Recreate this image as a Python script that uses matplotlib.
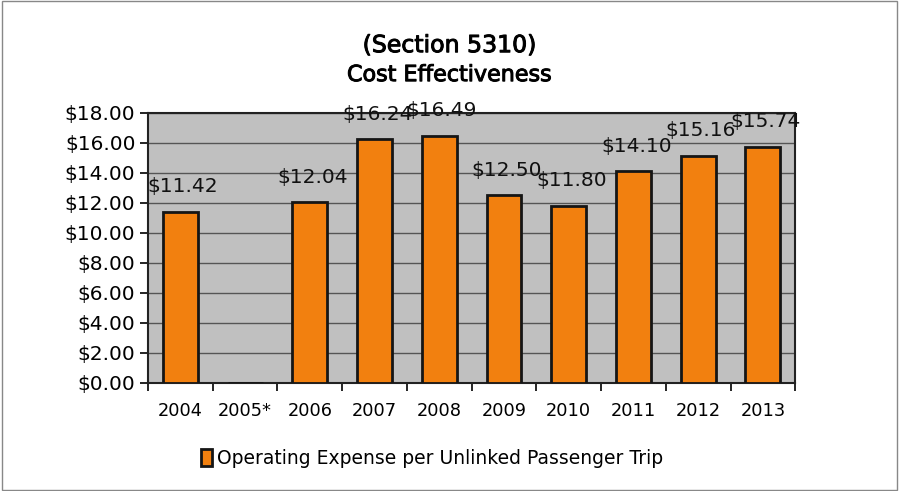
import matplotlib.pyplot as plt
import matplotlib.patheffects as pe
import numpy as np

years = ['2004', '2005*', '2006', '2007', '2008', '2009', '2010', '2011', '2012', '2013']
cost = [11.42, np.nan, 12.04, 16.24, 16.49, 12.50, 11.80, 14.10, 15.16, 15.74]
series_name = 'Operating Expense per Unlinked Passenger Trip'

plt.rcParams['font.family'] = ['DejaVu Sans']

fig = plt.figure(figsize=(8.99, 4.91), dpi=100)
fig.patch.set_facecolor('white')
ax = fig.add_axes([0.1646, 0.22, 0.720, 0.55])
ax.set_facecolor('#c0c0c0')

x = np.arange(len(years))
vals = np.nan_to_num(cost)
bars = ax.bar(x, vals, width=0.54, color='#f2800f', edgecolor='#151515', linewidth=2,
              label=series_name, zorder=3)
for xi, v in zip(x, cost):
    if np.isnan(v):
        continue
    ax.annotate('$%.2f' % v, (xi, v), xytext=(2, 18), textcoords='offset points',
                ha='center', va='center', fontsize=14.5, color='#111111', zorder=4)

ax.set_xlim(-0.5, len(years) - 0.5)
ax.set_ylim(0, 18)
ax.set_yticks(np.arange(0, 18.1, 2))
ax.set_yticklabels(['$%.2f' % t for t in np.arange(0, 18.1, 2)], fontsize=14.5)
ax.set_xticks(x)
ax.set_xticklabels(years, fontsize=12.8)
ax.set_xticks(np.arange(-0.5, len(years), 1), minor=True)
ax.tick_params(axis='x', which='major', length=0, pad=14)
ax.tick_params(axis='x', which='minor', length=6, width=1.2, direction='out')
ax.tick_params(axis='y', length=6, width=1.2, direction='out', pad=3)
ax.grid(axis='y', color='#555555', linewidth=1, zorder=1)
for s in ax.spines.values():
    s.set_color('#222222')
    s.set_linewidth(1.5)

thick = [pe.withStroke(linewidth=0.7, foreground='black')]
fig.text(0.50, 0.908, '(Section 5310)', ha='center', va='center', fontsize=17, path_effects=thick)
fig.text(0.50, 0.847, 'Cost Effectiveness', ha='center', va='center', fontsize=16, path_effects=thick)

leg = fig.legend(handles=[bars], labels=[series_name], loc='center', bbox_to_anchor=(0.481, 0.067),
                 frameon=False, fontsize=13.5, handlelength=0.55, handleheight=1.0, handletextpad=0.3)

fig.add_artist(plt.Rectangle((0.002, 0.002), 0.996, 0.996, transform=fig.transFigure,
                             fill=False, edgecolor='#888888', linewidth=1))

fig.savefig('out.png', dpi=100)
